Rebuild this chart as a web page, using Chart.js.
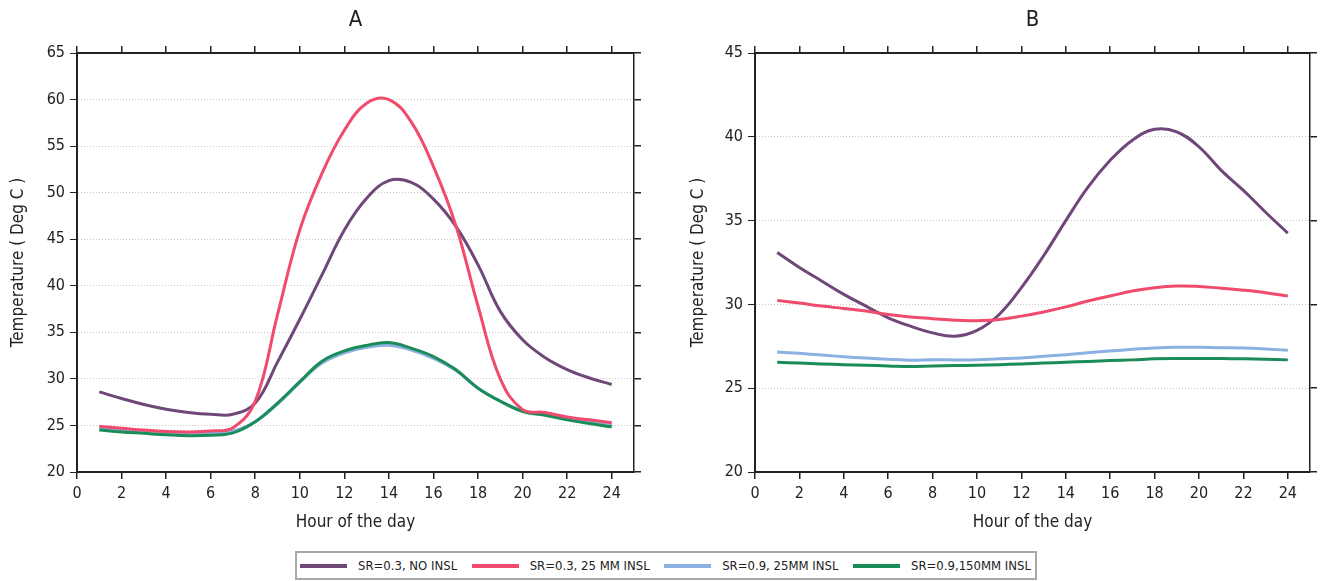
<!DOCTYPE html>
<html>
<head>
<meta charset="utf-8">
<script src="https://cdn.jsdelivr.net/npm/chart.js@4.4.1/dist/chart.umd.min.js"></script>
<style>
  body { margin: 0; background: #fff; }
  #wrap { position: relative; width: 1321px; height: 581px; font-family: "DejaVu Sans Condensed", "Liberation Sans Narrow", sans-serif; color: #222; }
  .panel { position: absolute; top: 0; height: 545px; }
  #panelA { left: 0; width: 660px; }
  #panelB { left: 660px; width: 661px; }
  #legend { position: absolute; left: 295px; top: 551px; width: 738px; height: 25px; border: 2px solid #a8a8a8; display: flex; align-items: center; justify-content: space-between; font-size: 13px; white-space: nowrap; }
  .item { display: flex; align-items: center; padding-right: 4px; }
  .swatch { width: 47px; height: 4px; margin: 0 11px 0 3px; }
</style>
</head>
<body>
<div id="wrap">
  <div class="panel" id="panelA"><canvas id="chartA"></canvas></div>
  <div class="panel" id="panelB"><canvas id="chartB"></canvas></div>
  <div id="legend"></div>
</div>
<script>
const hours = [1, 2, 3, 4, 5, 6, 7, 8, 9, 10, 11, 12, 13, 14, 15, 16, 17, 18, 19, 20, 21, 22, 23, 24];

const seriesNames = ["SR=0.3, NO INSL", "SR=0.3, 25 MM INSL", "SR=0.9, 25MM INSL", "SR=0.9,150MM INSL"];
const seriesColors = ["#6f4879", "#f04a6c", "#8bb0e2", "#1a8c58"];

// panel A
const aNoInsl = [28.6, 27.9, 27.25, 26.75, 26.4, 26.2, 26.2, 27.4, 31.8, 36.4, 41.2, 46.0, 49.4, 51.3, 51.1, 49.3, 46.4, 42.25, 37.25, 34.2, 32.3, 31.0, 30.1, 29.4];
const a25mm03 = [24.9, 24.7, 24.5, 24.35, 24.3, 24.4, 24.75, 27.6, 36.9, 46.0, 52.1, 56.7, 59.6, 60.0, 57.6, 52.8, 46.5, 37.8, 30.0, 26.7, 26.4, 25.9, 25.6, 25.3];
const a25mm09 = [24.7, 24.5, 24.35, 24.2, 24.1, 24.15, 24.4, 25.4, 27.3, 29.6, 31.7, 32.8, 33.4, 33.6, 33.1, 32.2, 30.9, 29.0, 27.6, 26.6, 26.2, 25.8, 25.4, 25.0];
const a150mm09 = [24.5, 24.3, 24.15, 24.0, 23.9, 23.95, 24.2, 25.4, 27.4, 29.7, 31.9, 33.0, 33.6, 33.9, 33.3, 32.4, 31.0, 29.0, 27.6, 26.5, 26.1, 25.6, 25.2, 24.85];

// panel B
const bNoInsl = [33.1, 32.2, 31.4, 30.6, 29.9, 29.2, 28.7, 28.3, 28.1, 28.45, 29.4, 31.0, 32.9, 35.0, 37.0, 38.6, 39.8, 40.45, 40.3, 39.4, 38.0, 36.8, 35.5, 34.25];
const b25mm03 = [30.24, 30.08, 29.9, 29.76, 29.6, 29.4, 29.25, 29.15, 29.05, 29.03, 29.1, 29.3, 29.55, 29.85, 30.2, 30.5, 30.8, 31.0, 31.1, 31.07, 30.97, 30.85, 30.7, 30.5];
const b25mm09 = [27.16, 27.08, 26.98, 26.88, 26.8, 26.73, 26.67, 26.7, 26.69, 26.7, 26.75, 26.8, 26.9, 27.0, 27.12, 27.22, 27.32, 27.4, 27.44, 27.44, 27.42, 27.4, 27.34, 27.26];
const b150mm09 = [26.55, 26.5, 26.45, 26.4, 26.37, 26.33, 26.29, 26.33, 26.35, 26.37, 26.4, 26.45, 26.5, 26.55, 26.6, 26.65, 26.69, 26.75, 26.77, 26.77, 26.77, 26.75, 26.73, 26.69];

const xTicksStep = 2;
const yTicksStep = 5;

const FONT = "'DejaVu Sans Condensed', 'Liberation Sans Narrow', sans-serif";
const INK = "#222";

// draw order: red on top, then green, blue, purple
const drawOrder = [3, 0, 2, 1];

function makeChart(id, title, values, yMin, yMax, box) {
  const ctx = document.getElementById(id).getContext("2d");
  const fixW = w => s => { s.width = w; };
  const fixH = h => s => { s.height = h; };

  return new Chart(ctx, {
    type: "line",
    data: {
      labels: hours,
      datasets: values.map((v, i) => ({
        label: seriesNames[i],
        data: hours.map((h, k) => ({ x: h, y: v[k] })),
        borderColor: seriesColors[i],
        borderWidth: 3,
        pointRadius: 0,
        tension: 0.4,
        order: drawOrder[i],
        fill: false
      }))
    },
    options: {
      responsive: true,
      maintainAspectRatio: false,
      animation: false,
      layout: { padding: 0 },
      plugins: {
        legend: { display: false },
        tooltip: { enabled: false },
        title: {
          display: true,
          text: title,
          fullSize: false,
          color: INK,
          font: { family: FONT, size: 22, weight: "normal" },
          padding: { top: 7, bottom: 8 }
        }
      },
      scales: {
        x: {
          type: "linear",
          position: "bottom",
          min: 0, max: 25,
          afterFit: fixH(73),
          border: { color: INK, width: 2 },
          grid: { drawOnChartArea: false, color: INK, tickLength: 7, lineWidth: 1.5 },
          ticks: { stepSize: xTicksStep, includeBounds: false, color: INK, padding: 5, font: { family: FONT, size: 16 }, maxRotation: 0 },
          title: { display: true, text: "Hour of the day", color: INK, font: { family: FONT, size: 17 }, padding: { top: 4, bottom: 12 } }
        },
        xTop: {
          type: "linear",
          position: "top",
          min: 0, max: 25,
          afterFit: fixH(box.top),
          border: { color: INK, width: 2 },
          grid: { drawOnChartArea: false, color: INK, tickLength: 7, lineWidth: 1.5 },
          ticks: { stepSize: xTicksStep, includeBounds: false, display: false }
        },
        y: {
          type: "linear",
          position: "left",
          min: yMin, max: yMax,
          afterFit: fixW(box.left),
          border: { color: INK, width: 2, dash: [1, 2] },
          grid: { color: "#c8c8c8", tickColor: INK, tickBorderDash: [], tickLength: 7, lineWidth: 1 },
          ticks: { stepSize: yTicksStep, color: INK, padding: 5, font: { family: FONT, size: 16 } },
          title: { display: true, text: "Temperature ( Deg C )", color: INK, font: { family: FONT, size: 17 }, padding: { top: box.titlePad, bottom: 4 } }
        },
        yRight: {
          type: "linear",
          position: "right",
          min: yMin, max: yMax,
          afterFit: fixW(box.right),
          border: { color: INK, width: 1.5 },
          grid: { drawOnChartArea: false, color: INK, tickLength: 7, lineWidth: 1.5 },
          ticks: { stepSize: yTicksStep, display: false }
        }
      }
    }
  });
}

makeChart("chartA", "A", [aNoInsl, a25mm03, a25mm09, a150mm09], 20, 65, { left: 77, right: 26, top: 11.6, titlePad: 8 });
makeChart("chartB", "B", [bNoInsl, b25mm03, b25mm09, b150mm09], 20, 45, { left: 95, right: 11, top: 11.6, titlePad: 28 });

// shared legend under both panels
const legend = document.getElementById("legend");
seriesNames.forEach((name, i) => {
  const item = document.createElement("div");
  item.className = "item";
  const sw = document.createElement("span");
  sw.className = "swatch";
  sw.style.background = seriesColors[i];
  const txt = document.createElement("span");
  txt.textContent = name;
  item.appendChild(sw);
  item.appendChild(txt);
  legend.appendChild(item);
});
</script>
</body>
</html>
